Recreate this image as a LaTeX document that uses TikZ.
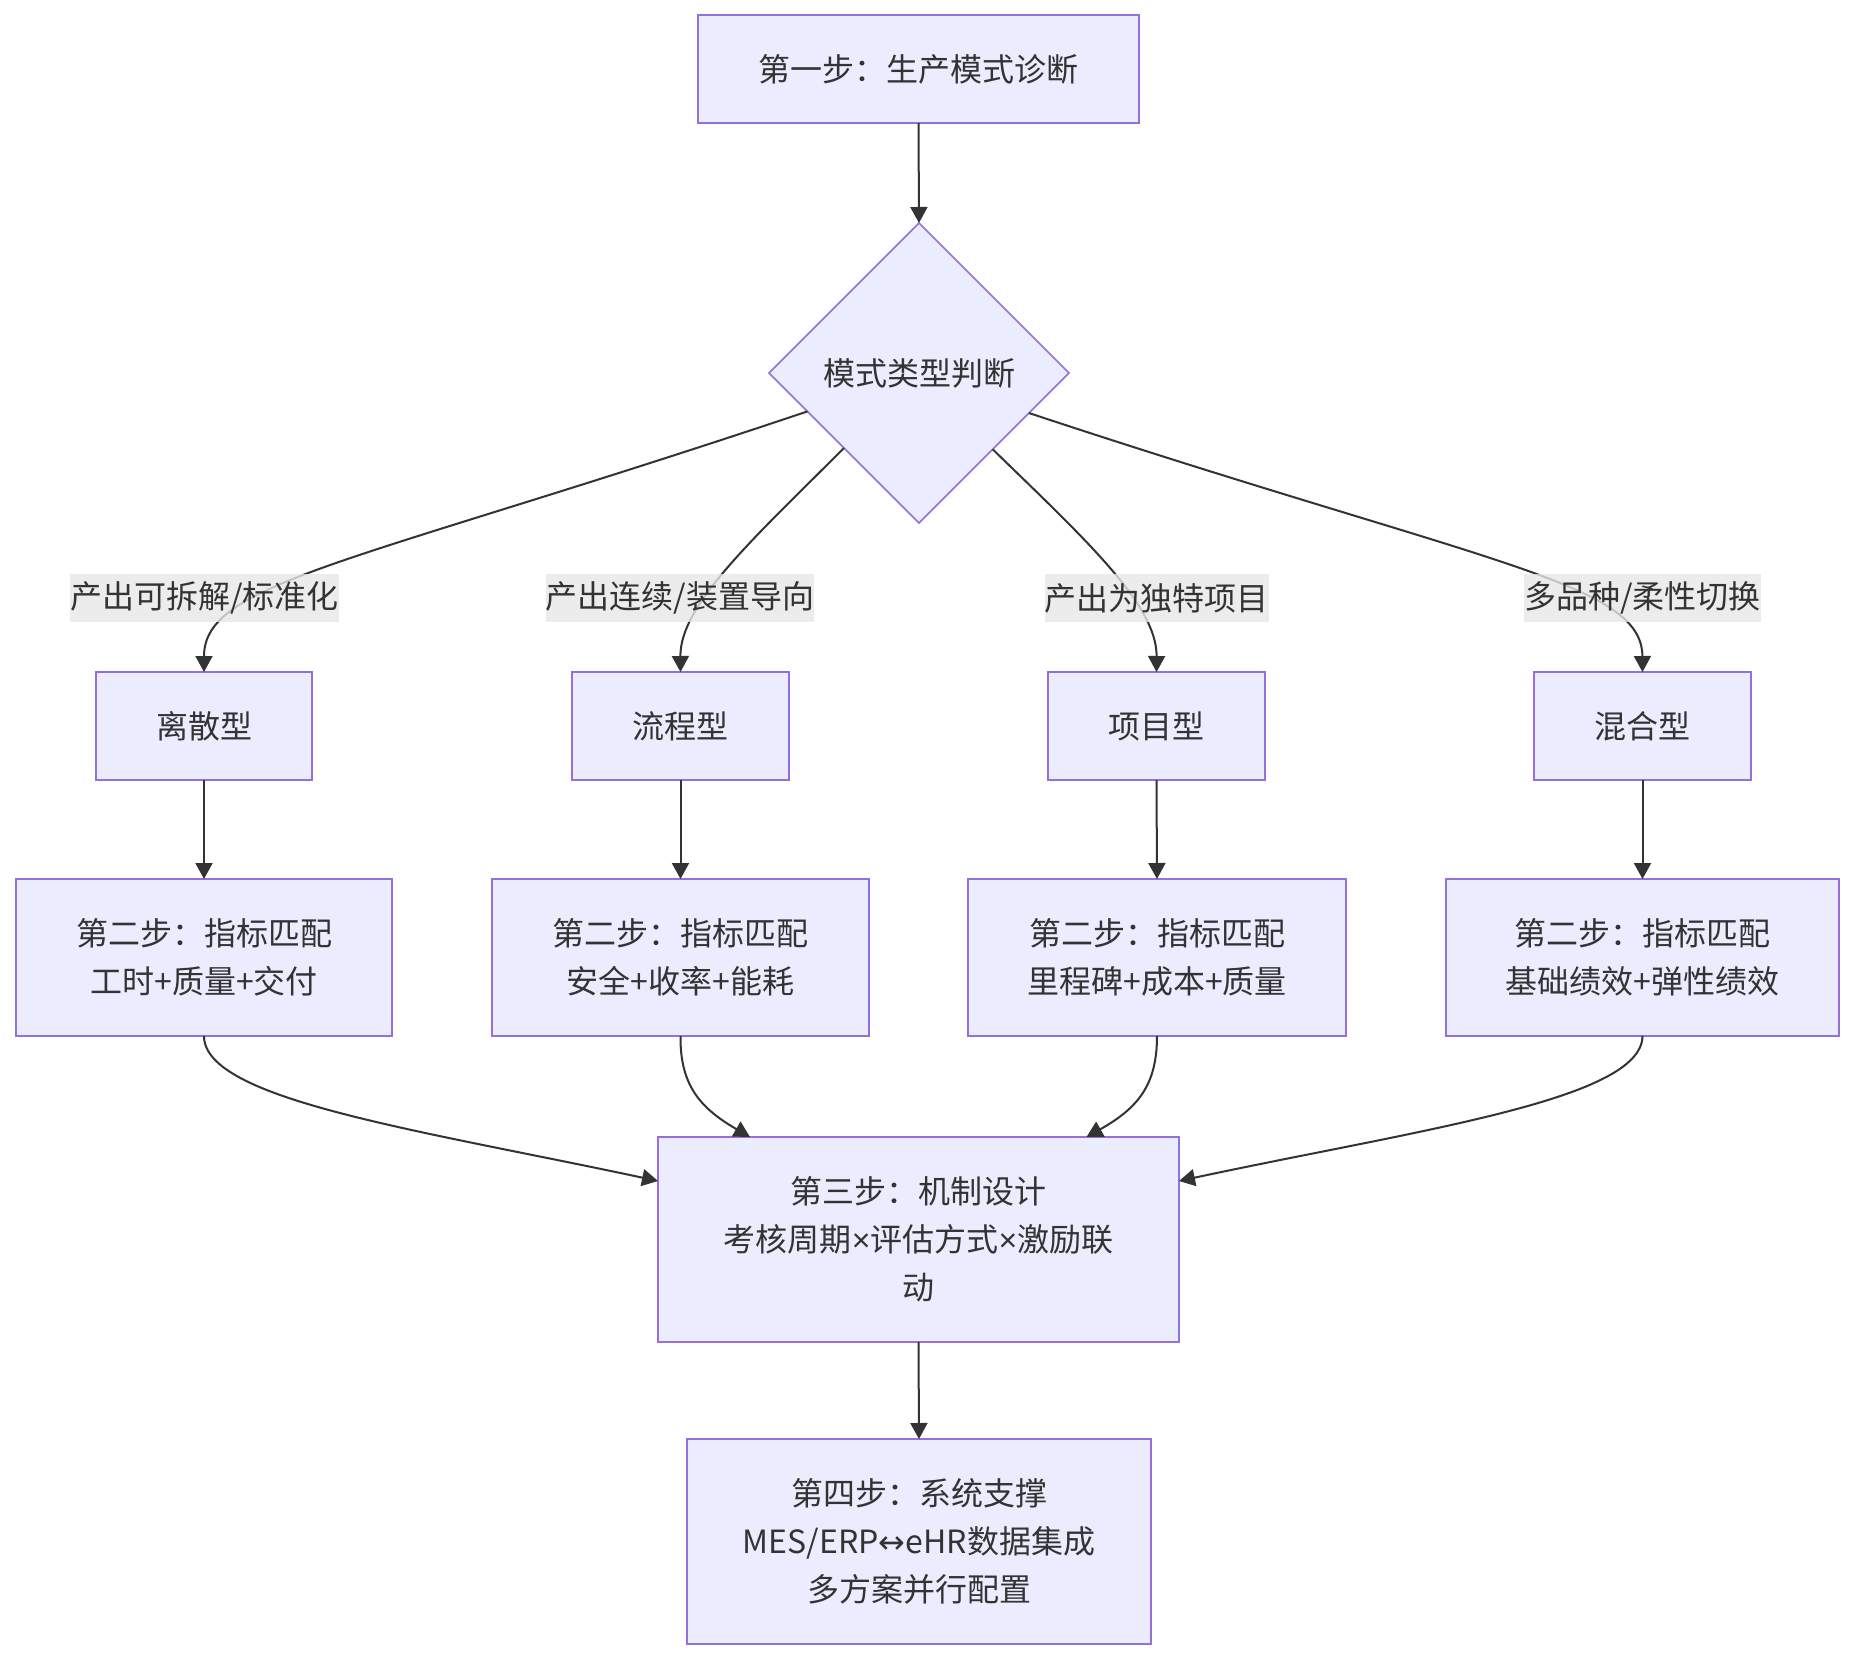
\documentclass[tikz,border=0pt]{standalone}
\usepackage{fontspec}
\setmainfont{Noto Sans CJK SC}
\newfontfamily\symf{DejaVu Sans}
\newfontfamily\latf{Liberation Sans}
\usetikzlibrary{shapes.geometric,arrows.meta}
\definecolor{boxfill}{HTML}{ECECFF}
\definecolor{boxline}{HTML}{9370DB}
\definecolor{edgecol}{HTML}{333333}
\definecolor{txt}{HTML}{333333}
\definecolor{lblbg}{HTML}{E8E8E8}
\begin{document}
\begin{tikzpicture}[x=0.5pt,y=-0.5pt,
  font=\fontsize{16pt}{24pt}\selectfont,
  box/.style={draw=boxline, fill=boxfill, line width=0.8pt, inner sep=0pt, outer sep=0pt, align=center, text=txt},
  dia/.style={diamond, draw=boxline, fill=boxfill, line width=0.8pt, inner sep=0pt, outer sep=0pt, minimum width=150pt, minimum height=150pt, text=txt},
  lbl/.style={fill=lblbg, fill opacity=0.8, text opacity=1, inner xsep=0pt, inner ysep=0pt, minimum height=24pt, text=txt},
  conn/.style={draw=edgecol, line width=1pt, -{Triangle[length=8pt,width=8.5pt]}}]
\path[fill=white] (0,0) rectangle (1854,1660);
\useasboundingbox (0,0) rectangle (1854,1660);

% nodes
\node[box, minimum width=220.5pt, minimum height=54pt] (s1) at (918.5,69) {第一步：生产模式诊断};
\node[dia] (d) at (919,373) {模式类型判断};

\node[box, minimum width=108pt, minimum height=54pt] (a1) at (204,726) {离散型};
\node[box, minimum width=108.5pt, minimum height=54pt] (a2) at (680.5,726) {流程型};
\node[box, minimum width=108.5pt, minimum height=54pt] (a3) at (1156.5,726) {项目型};
\node[box, minimum width=108.5pt, minimum height=54pt] (a4) at (1642.5,726) {混合型};

\node[box, minimum width=188pt, minimum height=78.5pt] (b1) at (204,957.5) {第二步：指标匹配\\工时+质量+交付};
\node[box, minimum width=188.5pt, minimum height=78.5pt] (b2) at (680.5,957.5) {第二步：指标匹配\\安全+收率+能耗};
\node[box, minimum width=189pt, minimum height=78.5pt] (b3) at (1157,957.5) {第二步：指标匹配\\里程碑+成本+质量};
\node[box, minimum width=196.5pt, minimum height=78.5pt] (b4) at (1642.5,957.5) {第二步：指标匹配\\基础绩效+弹性绩效};

\node[box, minimum width=260.5pt, minimum height=102.5pt] (c) at (918.5,1239.5) {第三步：机制设计\\考核周期{\latf ×}评估方式{\latf ×}激励联\\动};
\node[box, minimum width=232pt, minimum height=102.5pt] (e) at (919,1541.5) {第四步：系统支撑\\MES/ERP{\symf ↔}eHR数据集成\\多方案并行配置};

% connectors
\draw[conn] (s1.south) -- (d.north);

\draw[conn] (d.199.4) .. controls (350,565) and (204,582) .. (a1.north);
\draw[conn] (d.225.8) .. controls (752,540) and (680,605) .. (a2.north);
\draw[conn] (d.314.2) .. controls (1086,540) and (1157,605) .. (a3.north);
\draw[conn] (d.340.6) .. controls (1488,565) and (1642,582) .. (a4.north);

\draw[conn] (a1.south) -- (b1.north);
\draw[conn] (a2.south) -- (b2.north);
\draw[conn] (a3.south) -- (b3.north);
\draw[conn] (a4.south) -- (b4.north);

\draw[conn] (b1.south) .. controls (204,1100) and (420,1130) .. ([yshift=29.25pt]c.west);
\draw[conn] (b2.south) .. controls (680,1085) and (700,1108) .. ([xshift=-84.25pt]c.north);
\draw[conn] (b3.south) .. controls (1157,1085) and (1138,1108) .. ([xshift=84pt]c.north);
\draw[conn] (b4.south) .. controls (1642,1100) and (1417,1130) .. ([yshift=29.25pt]c.east);

\draw[conn] (c.south) -- (e.north);

% edge labels
\node[lbl] (l1) at (204.5,598) {产出可拆解/标准化};
\node[lbl] (l2) at (680,598) {产出连续/装置导向};
\node[lbl] (l3) at (1156.5,598) {产出为独特项目};
\node[lbl] (l4) at (1642.5,598) {多品种/柔性切换};
\end{tikzpicture}
\end{document}
